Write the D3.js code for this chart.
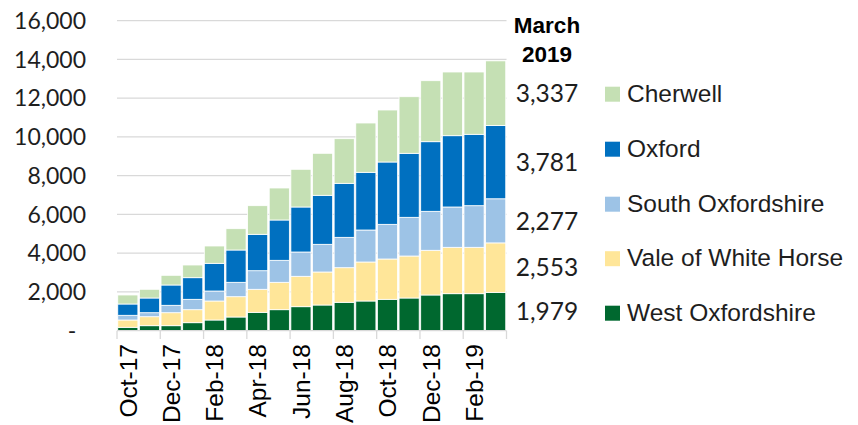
<!DOCTYPE html>
<html>
<head>
<meta charset="utf-8">
<script src="https://cdn.jsdelivr.net/npm/d3@7"></script>
<style>
  body { margin: 0; background: #fff; }
  svg { display: block; }
</style>
</head>
<body>
<svg id="chart" width="858" height="425"></svg>
<script>
// months shown on the x axis (every other one gets a label)
var months = ["Oct-17", "Nov-17", "Dec-17", "Jan-18", "Feb-18", "Mar-18", "Apr-18", "May-18", "Jun-18",
    "Jul-18", "Aug-18", "Sep-18", "Oct-18", "Nov-18", "Dec-18", "Jan-19", "Feb-19", "Mar-19"];

// series, bottom of the stack first
var westOxfordshire = [175, 258, 258, 413, 552, 707, 948, 1084, 1239, 1326, 1466, 1533, 1620, 1688, 1843, 1910, 1910, 1979];
var valeOfWhiteHorse = [377, 465, 671, 671, 981, 1048, 1189, 1414, 1569, 1704, 1786, 2013, 2081, 2167, 2307, 2394, 2394, 2553];
var southOxfordshire = [243, 206, 382, 536, 516, 743, 960, 1135, 1254, 1429, 1567, 1651, 1789, 1997, 2012, 2081, 2148, 2277];
var oxford = [583, 759, 1048, 1116, 1429, 1667, 1878, 2081, 2323, 2529, 2788, 2978, 3217, 3304, 3593, 3680, 3685, 3781];
var cherwell = [465, 449, 500, 655, 894, 1100, 1477, 1651, 1945, 2168, 2303, 2545, 2684, 2921, 3148, 3287, 3215, 3337];

var seriesNames = ["West Oxfordshire", "Vale of White Horse", "South Oxfordshire", "Oxford", "Cherwell"];
var seriesColors = ["#00682f", "#ffe699", "#9dc3e6", "#0070c0", "#c5e0b4"];
var yTicks = [0, 2000, 4000, 6000, 8000, 10000, 12000, 14000, 16000];

var seriesValues = [westOxfordshire, valeOfWhiteHorse, southOxfordshire, oxford, cherwell];
var rows = months.map(function (m, i) {
    var row = { month: m };
    seriesNames.forEach(function (s, j) { row[s] = seriesValues[j][i]; });
    return row;
});

var svg = d3.select("#chart");
var NUM_FONT = "Lato, 'Open Sans', sans-serif";
var TXT_FONT = "'Liberation Sans', Arial, sans-serif";
var TEXT_COLOR = "#1e1e1e";
var GRID_COLOR = "#d9d9d9";

var x = d3.scaleBand().domain(months).range([117, 506.5]).paddingInner(0.07).paddingOuter(0.035);
var y = d3.scaleLinear().domain([0, 16000]).range([330.7, 20.7]);

// gridlines
svg.append("g").selectAll("line")
    .data(yTicks.slice(1))
    .enter().append("line")
    .attr("x1", 117).attr("x2", 506.5)
    .attr("y1", function (d) { return y(d); })
    .attr("y2", function (d) { return y(d); })
    .style("stroke", GRID_COLOR)
    .style("stroke-width", 1.3);

// y tick labels
svg.append("g").selectAll("text")
    .data(yTicks)
    .enter().append("text")
    .attr("x", function (d) { return d === 0 ? 72 : 86; })
    .attr("y", function (d) { return y(d); })
    .attr("dy", "0.36em")
    .attr("text-anchor", function (d) { return d === 0 ? "middle" : "end"; })
    .style("font-family", NUM_FONT)
    .style("font-size", "23px")
    .style("fill", TEXT_COLOR)
    .text(function (d) { return d === 0 ? "-" : d3.format(",")(d); });

// stacked bars
var stack = d3.stack().keys(seriesNames);
var layers = stack(rows);

svg.append("g").selectAll("g")
    .data(layers)
    .enter().append("g")
    .style("fill", function (d, i) { return seriesColors[i]; })
    .selectAll("rect")
    .data(function (d) { return d; })
    .enter().append("rect")
    .attr("x", function (d) { return x(d.data.month); })
    .attr("width", x.bandwidth())
    .attr("y", function (d) { return y(d[1]); })
    .attr("height", function (d) { return y(d[0]) - y(d[1]); })
    .style("stroke", "#fff")
    .style("stroke-width", 0.8);

// x axis line and ticks
var xAxis = svg.append("g");
xAxis.append("line")
    .attr("x1", 117).attr("x2", 506.5)
    .attr("y1", 330.7).attr("y2", 330.7)
    .style("stroke", GRID_COLOR)
    .style("stroke-width", 1.3);

var tickPos = d3.range(0, months.length + 1, 2).map(function (i) { return 117 + i * (389.5 / months.length); });
xAxis.selectAll("line.tick")
    .data(tickPos)
    .enter().append("line")
    .attr("class", "tick")
    .attr("x1", function (d) { return d; })
    .attr("x2", function (d) { return d; })
    .attr("y1", 330.7).attr("y2", 339)
    .style("stroke", GRID_COLOR)
    .style("stroke-width", 1.3);

xAxis.selectAll("text")
    .data(months.filter(function (m, i) { return i % 2 === 0; }))
    .enter().append("text")
    .attr("transform", function (d) { return "translate(" + (x(d) + x.bandwidth() / 2) + ",344) rotate(-90)"; })
    .attr("dy", "0.36em")
    .attr("text-anchor", "end")
    .style("font-family", TXT_FONT)
    .style("font-size", "24.5px")
    .style("fill", "#000")
    .text(function (d) { return d; });

// "March 2019" heading
var head = svg.append("text")
    .attr("x", 547)
    .attr("text-anchor", "middle")
    .style("font-family", TXT_FONT)
    .style("font-size", "22.5px")
    .style("font-weight", "bold")
    .style("fill", "#000");
head.append("tspan").attr("x", 547).attr("y", 33).text("March");
head.append("tspan").attr("x", 547).attr("y", 62).text("2019");

// last-month values, placed at the middle of each segment of the last bar
var last = layers.map(function (layer) { return layer[layer.length - 1]; });
svg.append("g").selectAll("text")
    .data(last)
    .enter().append("text")
    .attr("x", 547)
    .attr("y", function (d) { return y((d[0] + d[1]) / 2); })
    .attr("dy", "0.36em")
    .attr("text-anchor", "middle")
    .style("font-family", NUM_FONT)
    .style("font-size", "24.5px")
    .style("fill", TEXT_COLOR)
    .text(function (d) { return d3.format(",")(d[1] - d[0]); });

// legend, Cherwell at the top
var legendY = [101.7, 156.7, 211.7, 266.2, 320.7];
var legend = svg.append("g").selectAll("g")
    .data(seriesNames.slice().reverse())
    .enter().append("g")
    .attr("transform", function (d, i) { return "translate(605," + legendY[i] + ")"; });

legend.append("rect")
    .attr("x", 0).attr("y", -15)
    .attr("width", 15).attr("height", 15)
    .style("fill", function (d) { return seriesColors[seriesNames.indexOf(d)]; });

legend.append("text")
    .attr("x", 22)
    .attr("y", 0)
    .style("font-family", TXT_FONT)
    .style("font-size", "24.5px")
    .style("fill", TEXT_COLOR)
    .text(function (d) { return d; });
</script>
</body>
</html>
